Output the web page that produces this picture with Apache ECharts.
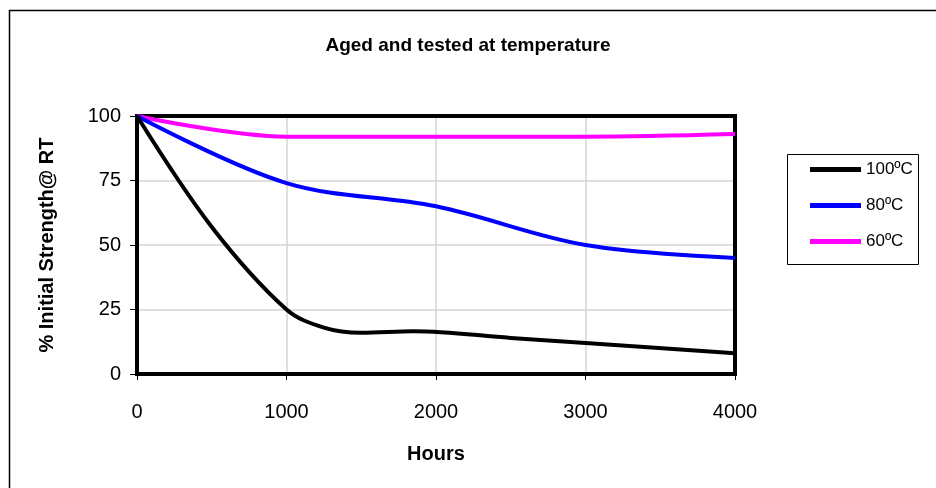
<!DOCTYPE html>
<html><head><meta charset="utf-8">
<script src="https://cdn.jsdelivr.net/npm/echarts@6/dist/echarts.min.js"></script>
<style>html,body{margin:0;padding:0;background:#fff}#c{width:936px;height:488px}</style>
</head><body><div id="c"></div>
<script>
const title = 'Aged and tested at temperature';
const xName = 'Hours';
const yName = '% Initial Strength@ RT';
const seriesNames = ['100ºC', '80ºC', '60ºC'];
const seriesColors = ['#000000', '#0000ff', '#ff00ff'];
const hours100 = [0, 500, 1000, 1250, 1500, 1850, 2500, 3000, 4000];
const vals100  = [100, 57, 25, 18, 16, 16.6, 14, 12, 8];
const hours80 = [0, 1000, 2000, 3000, 4000];
const vals80  = [100, 74, 65, 50, 45];
const hours60 = [0, 1000, 2000, 3000, 4000];
const vals60  = [100, 92, 92, 92, 93];
const xTicks = [0, 1000, 2000, 3000, 4000];
const yTicks = [0, 25, 50, 75, 100];

const pairs = (xs, ys) => xs.map((x, i) => [x, ys[i]]);
const allData = [pairs(hours100, vals100), pairs(hours80, vals80), pairs(hours60, vals60)];
const font = 'Liberation Sans, Arial, sans-serif';
const frameLine = { show: true, onZero: false, lineStyle: { color: '#000', width: 4, cap: 'square' } };
const gridLine = { show: true, lineStyle: { color: '#d4d4d4', width: 1.5 } };
const chart = echarts.init(document.getElementById('c'));
chart.setOption({
  animation: false,
  backgroundColor: '#fff',
  title: { text: title, left: 'center', top: 31, textStyle: { fontFamily: font, fontSize: 19, fontWeight: 'bold', color: '#000' } },
  grid: { left: 137, right: 201, top: 116, bottom: 114 },
  xAxis: [{
    type: 'value', min: xTicks[0], max: xTicks[xTicks.length - 1], interval: 1000, position: 'bottom',
    name: xName, nameLocation: 'middle', nameGap: 70,
    nameTextStyle: { fontFamily: font, fontSize: 20, fontWeight: 'bold', color: '#000' },
    axisLine: frameLine,
    axisTick: { show: true, length: 6, lineStyle: { color: '#000', width: 1 } },
    axisLabel: { margin: 28, fontFamily: font, fontSize: 20, color: '#000', formatter: v => String(v) },
    splitLine: gridLine
  }, {
    type: 'value', min: xTicks[0], max: xTicks[xTicks.length - 1], interval: 1000, position: 'top',
    axisLine: frameLine, axisTick: { show: false }, axisLabel: { show: false }, splitLine: { show: false }
  }],
  yAxis: [{
    type: 'value', min: yTicks[0], max: yTicks[yTicks.length - 1], interval: 25, position: 'left',
    name: yName, nameLocation: 'middle', nameGap: 80,
    nameTextStyle: { fontFamily: font, fontSize: 20, fontWeight: 'bold', color: '#000' },
    axisLine: frameLine,
    axisTick: { show: true, length: 7, lineStyle: { color: '#000', width: 1 } },
    axisLabel: { margin: 16, fontFamily: font, fontSize: 20, color: '#000' },
    splitLine: gridLine
  }, {
    type: 'value', min: yTicks[0], max: yTicks[yTicks.length - 1], interval: 25, position: 'right',
    axisLine: frameLine, axisTick: { show: false }, axisLabel: { show: false }, splitLine: { show: false }
  }],
  legend: {
    orient: 'vertical', left: 805, top: 156, itemGap: 19, itemWidth: 51, itemHeight: 5,
    icon: 'rect',
    textStyle: { fontFamily: font, fontSize: 17, color: '#000' },
    data: seriesNames
  },
  graphic: [
    { type: 'rect', shape: { x: 9.5, y: 10.5, width: 940, height: 490 }, style: { fill: 'none', stroke: '#000', lineWidth: 1.5 }, silent: true, z: -1 },
    { type: 'rect', shape: { x: 787.5, y: 154.5, width: 131, height: 110 }, style: { fill: 'none', stroke: '#000', lineWidth: 1 }, silent: true }
  ],
  series: seriesNames.map((n, i) => ({
    name: n, type: 'line', data: allData[i], smooth: 0.35, symbol: 'none', clip: false,
    lineStyle: { color: seriesColors[i], width: 4 }, itemStyle: { color: seriesColors[i] }, z: 3 - i + 2
  }))
});
</script></body></html>
